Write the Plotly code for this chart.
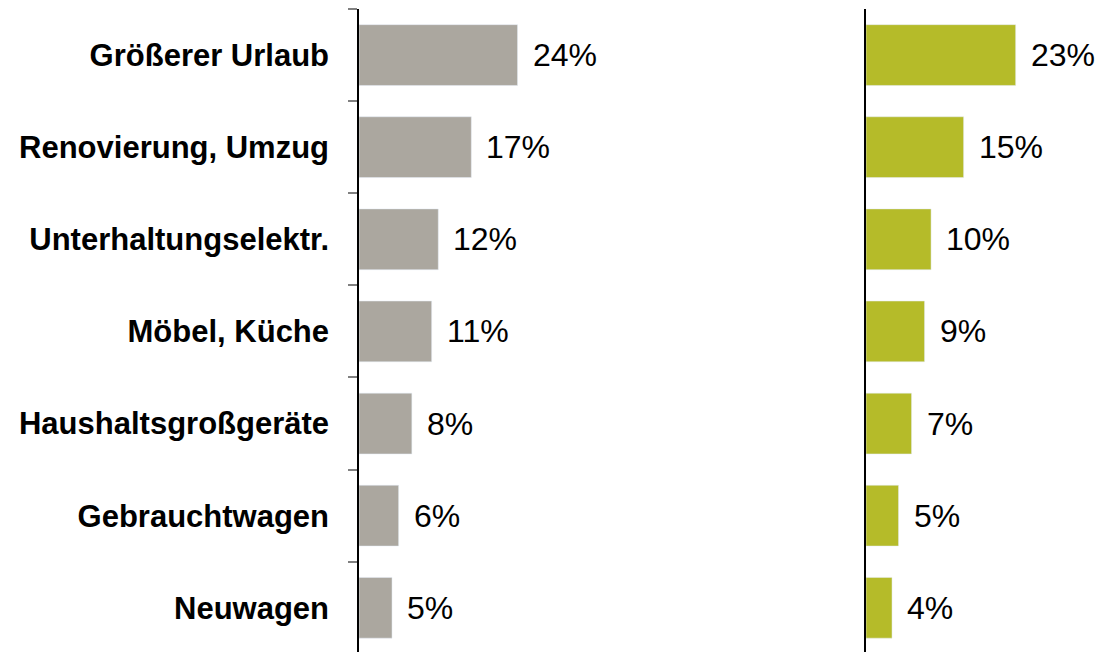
import plotly.graph_objects as go

categories = ["Größerer Urlaub", "Renovierung, Umzug", "Unterhaltungselektr.",
              "Möbel, Küche", "Haushaltsgroßgeräte", "Gebrauchtwagen", "Neuwagen"]
values_left = [24, 17, 12, 11, 8, 6, 5]
values_right = [23, 15, 10, 9, 7, 5, 4]

GREY = "#ABA79F"
GREEN = "#B5BB29"
FONT = "Liberation Sans, Arial, sans-serif"

fig = go.Figure()
fig.add_trace(go.Bar(x=values_left, y=categories, orientation="h", marker_color=GREY,
                     width=0.66, xaxis="x", yaxis="y", showlegend=False, hoverinfo="skip"))
fig.add_trace(go.Bar(x=values_right, y=categories, orientation="h", marker_color=GREEN,
                     width=0.66, xaxis="x2", yaxis="y2", showlegend=False, hoverinfo="skip"))

annotations = []
for c, v in zip(categories, values_left):
    annotations.append(dict(x=v, y=c, xref="x", yref="y", text=f"{v}%", showarrow=False,
                            xanchor="left", yanchor="middle", xshift=13,
                            font=dict(family=FONT, size=32, color="black")))
for c, v in zip(categories, values_right):
    annotations.append(dict(x=v, y=c, xref="x2", yref="y2", text=f"{v}%", showarrow=False,
                            xanchor="left", yanchor="middle", xshift=13,
                            font=dict(family=FONT, size=32, color="black")))

yrange = [6.48, -0.5]
fig.update_layout(
    width=1097, height=652,
    margin=dict(l=0, r=0, t=9, b=0),
    paper_bgcolor="white", plot_bgcolor="white",
    bargap=0.34,
    xaxis=dict(domain=[359/1097, 0.70], range=[0, 61.9], visible=False, fixedrange=True),
    xaxis2=dict(domain=[866/1097, 1.0], range=[0, 35.5], visible=False, fixedrange=True),
    yaxis=dict(anchor="x", type="category", range=yrange, showline=True, linecolor="black",
               linewidth=1.5, ticks="outside", ticklen=9, tickwidth=2, tickcolor="#808080",
               tickson="boundaries", showgrid=False, zeroline=False,
               tickfont=dict(family=FONT, size=31, color="black", weight="bold"),
               ticklabelstandoff=22),
    yaxis2=dict(anchor="x2", type="category", range=yrange, showline=True, linecolor="black",
                linewidth=1.5, ticks="", showticklabels=False, showgrid=False, zeroline=False),
    annotations=annotations,
)

fig.write_html("out.html")
